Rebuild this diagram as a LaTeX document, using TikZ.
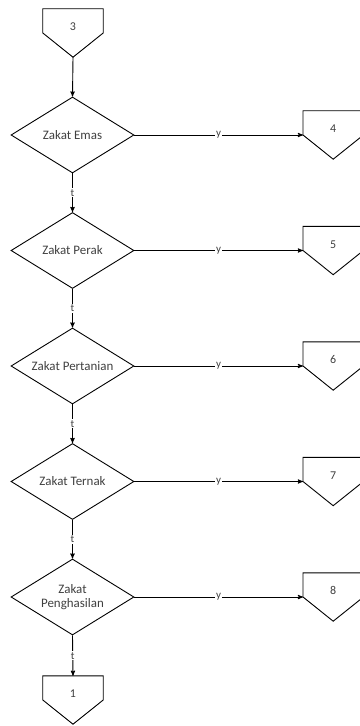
\documentclass[tikz,border=0pt]{standalone}
\usepackage{fontspec}
\setmainfont{Carlito}
\usetikzlibrary{shapes.geometric,arrows,positioning}

\tikzset{
  keputusan/.style={diamond,draw,line width=0.9pt,aspect=1.62,inner sep=0pt,minimum width=123bp,minimum height=76bp,align=center,text=black!75,font=\fontsize{13}{14}\selectfont},
  konektor/.style={minimum width=60bp,minimum height=48bp,inner sep=0pt,text height=7pt,text depth=12pt,text=black!75,font=\fontsize{12}{13}\selectfont},
  alur/.style={->,>=stealth',line width=0.9pt},
  ket/.style={fill=white,inner sep=1pt,text=black!75,font=\fontsize{11}{12}\selectfont}
}

\begin{document}
\begin{tikzpicture}[x=1bp,y=-1bp]
\useasboundingbox (0,0) rectangle (359,726);
\node[konektor] (K3) at (73,33) {3};
\node[konektor] (K1) at (73,700) {1};
\foreach \teks/\no [count=\n] in {Zakat Emas/4,Zakat Perak/5,Zakat Pertanian/6,Zakat Ternak/7,{Zakat\\Penghasilan}/8}
  {
  \node[keputusan] (D\n) at (72.5,{135+(\n-1)*115.5}) {\teks};
  \node[konektor,anchor=west] (K\no) at (303,{135+(\n-1)*115.5}) {\no};
  \draw[alur] (D\n.east) -- node[ket]{y} (K\no.west);
  }
\foreach \k in {1,3,4,5,6,7,8}
  \draw[line width=0.9pt] (K\k.north west) -- (K\k.north east) -- (K\k.east) -- (K\k.south) -- (K\k.west) -- cycle;
\draw[alur] (K3.south) -- (D1.north);
\foreach \a/\b in {1/2,2/3,3/4,4/5}
  \draw[alur] (D\a.south) -- node[ket]{t} (D\b.north);
\draw[alur] (D5.south) -- node[ket]{t} (K1.north);
\end{tikzpicture}
\end{document}
